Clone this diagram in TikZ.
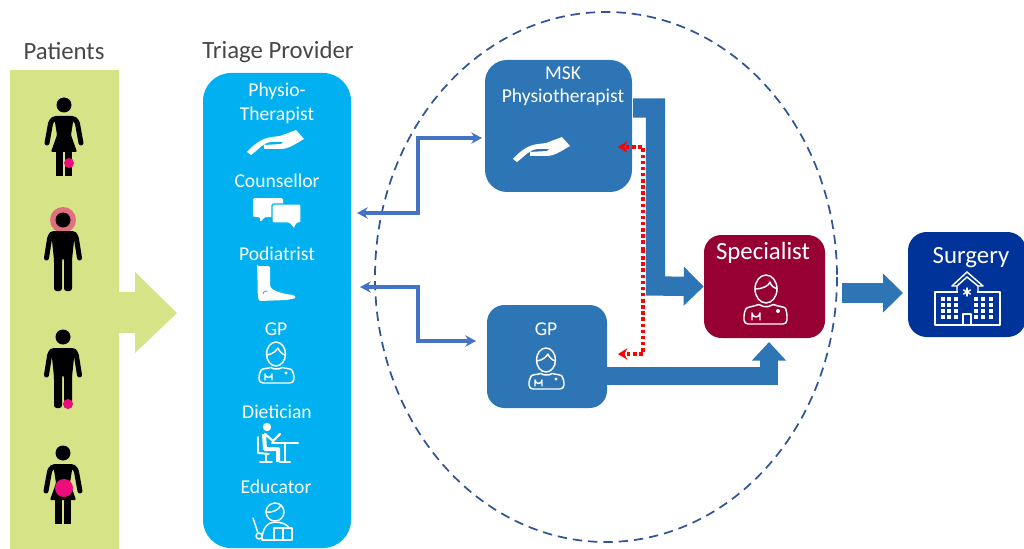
\documentclass[tikz,border=0pt]{standalone}
\usepackage{fontspec}
\setmainfont{Carlito}
\usetikzlibrary{arrows.meta}
\definecolor{patientgreen}{HTML}{D6E386}
\definecolor{triagecyan}{HTML}{00B0F0}
\definecolor{mskblue}{HTML}{2E75B6}
\definecolor{specred}{HTML}{970033}
\definecolor{surgblue}{HTML}{003399}
\definecolor{loopblue}{HTML}{2F5597}
\definecolor{linkblue}{HTML}{4472C4}
\definecolor{painpink}{HTML}{EC0C7C}
\definecolor{halored}{HTML}{E0707F}
\tikzset{
	boxnode/.style={rounded corners=16.5pt,inner sep=0pt},
	headtext/.style={text=black!72,font=\fontsize{18.6}{20}\selectfont},
	boxtext/.style={text=white,font=\fontsize{14.7}{16}\selectfont},
	bigtext/.style={text=white,font=\fontsize{18.6}{20}\selectfont},
	flowarrow/.style={draw=mskblue,line width=14.5pt,-{Triangle[length=15pt,width=28.5pt]}},
	linkarrow/.style={draw=linkblue,line width=2.6pt,{Stealth[length=8pt,width=8.5pt]}-{Stealth[length=8pt,width=8.5pt]}},
	backarrow/.style={draw=red,line width=2.6pt,dotted,-{Stealth[length=7pt,width=8.5pt]}},
	iconline/.style={draw=white,line width=1.1pt,line cap=round,line join=round},
	manfig/.pic={
		\fill (0,0)circle(7.5);
		\fill[rounded corners=2pt] (-12,11)--(12,11)--(9,40)--(9,71)--(1,71)--(1,38)--(-1,38)--(-1,71)--(-9,71)--(-9,40)--cycle;
		\foreach \s in {-1,1}
			\draw[line width=3.75pt,line cap=round,rounded corners=2pt] (\s*11,14)--(\s*13,16)--(\s*16.5,38);
	},
	womanfig/.pic={
		\fill (0,0)circle(7.5);
		\fill[rounded corners=.8pt] (-10,11)--(10,11)--(7,30)--(13,47)--(-13,47)--(-7,30)--cycle;
		\fill (-8,45) rectangle (-1,71);
		\fill (1,45) rectangle (8,71);
		\foreach \s in {-1,1}
			\draw[line width=3.75pt,line cap=round,rounded corners=2pt] (\s*10,14)--(\s*13,16)--(\s*17,38);
	},
	handicon/.pic={
		\fill[white] (-28,9) .. controls (-20,0) and (-12,-5) .. (-3,-6)--(5,-7)--(21,-13)--(29,-4) .. controls (20,1) and (14,6) .. (5,6)--(-11,6)--(-11,2)--(6,1)--(8,-1)--(-4,-1) .. controls (-12,0) and (-16,6) .. (-24,12)--cycle;
	},
	chaticon/.pic={
		\fill[white,rounded corners=1pt] (-24,-11)--(6,-11)--(6,8)--(-12,8)--(-17,13)--(-17,8)--(-24,8)--cycle;
		\filldraw[white,draw=triagecyan,line width=.8pt,rounded corners=1pt] (-5,-5)--(24,-5)--(24,14)--(20,14)--(17,20)--(12,14)--(-5,14)--cycle;
	},
	footicon/.pic={
		\fill[white,rounded corners=1pt] (-20,-19)--(-7,-19)--(-7,1) .. controls (-4,6) and (6,9) .. (17,10)--(19,13)--(10,15)--(-18,16) .. controls (-20,8) and (-19,0) .. cycle;
		\draw[triagecyan,line width=.6pt] (-14,9) arc[start angle=180,end angle=300,radius=3];
	},
	femdoc/.pic={
		\draw[iconline] (0,-8)ellipse[x radius=9.5,y radius=12];
		\draw[iconline] (-9,-7) .. controls (-3,-8) and (0,-11) .. (2,-14) .. controls (3,-11) and (6,-8) .. (9,-7);
		\draw[iconline,rounded corners=3pt] (-17,21)--(-17,11) .. controls (-14,7) and (-8,6) .. (-5,4) .. controls (-2,7) and (3,7) .. (6,4) .. controls (9,6) and (15,7) .. (18,11)--(18,21)--cycle;
		\draw[iconline] (-11,18)--(-11,12) arc[start angle=180,end angle=0,radius=3.5]--(-4,18);
		\fill[white] (10,11)circle(1.6);
	},
	maledoc/.pic={
		\draw[iconline] (1,-10)ellipse[x radius=11,y radius=14];
		\draw[iconline] (-10,-10) .. controls (-3,-10) and (4,-13) .. (5,-17) .. controls (6,-13) and (9,-11) .. (12,-10);
		\draw[iconline,rounded corners=3pt] (-21,25)--(-21,13) .. controls (-18,8) and (-10,7) .. (-6,4) .. controls (-2,8) and (4,8) .. (8,4) .. controls (12,7) and (20,8) .. (22,13)--(22,25)--cycle;
		\draw[iconline] (-13,21)--(-13,14) arc[start angle=180,end angle=0,radius=4]--(-5,21);
		\fill[white] (13,12)circle(2);
	},
	deskicon/.pic={
		\fill[white] (-10,-16)circle(4.2);
		\draw[white,line width=3pt,line join=round] (-13,-9)--(-12,6)--(1,6)--(1,19);
		\draw[white,line width=1.6pt,line join=round,line cap=round] (-12,-9)--(-4,-2)--(3,-9);
		\draw[iconline,line width=1.4pt] (-19,-6)--(-19,10)--(-8,11);
		\draw[iconline,line width=1.4pt] (-11,11)--(-11,19) (-17,19)--(-5,19);
		\draw[iconline,line width=1.6pt] (-5,0)--(21,0) (8,0)--(8,19) (3,19)--(13,19);
	},
	teachicon/.pic={
		\draw[iconline] (-1,-13)circle(9);
		\draw[iconline] (-10,-13) .. controls (-4,-12) and (3,-15) .. (5,-20);
		\draw[iconline] (-14,15) .. controls (-14,3) and (-8,-3) .. (-1,-3) .. controls (6,-3) and (12,0) .. (13,3);
		\draw[iconline] (-14,15)--(-2,15);
		\draw[iconline,fill=triagecyan] (-2,3) rectangle (16,15);
		\draw[iconline] (7,3)--(7,15);
		\draw[iconline] (-23,-7)--(-18,8);
		\draw[iconline] (-17,11)circle(3);
	},
	hospicon/.pic={
		\draw[iconline] (-33,-8) rectangle (32,25);
		\fill[surgblue] (-10,-9) rectangle (9,-7);
		\draw[iconline] (-11,-8)--(-11,-14)--(-16,-14)--(-1,-28)--(15,-14)--(10,-14)--(10,-8);
		\draw[iconline] (-11,-14)--(-1,-23)--(10,-14);
		\draw[iconline] (-5,25)--(-5,14)--(3,14)--(3,25);
		\foreach \a in {0,60,120}
			\draw[iconline,rotate around={\a:(-1,-8)}] (-1,-12)--(-1,-4);
		\foreach \wx in {-25,-19,-12,8,15,23}
			\foreach \wy in {-1,5,11,17}
				\fill[white] (\wx-1.7,\wy-1.7) rectangle (\wx+1.7,\wy+1.7);
	},
}
\begin{document}
\begin{tikzpicture}[x=.75pt,y=-.75pt]
	\useasboundingbox (0,0) rectangle (1024,549);
	% patients
	\node[headtext] (patientshead) at (64,51) {Patients};
	\fill[patientgreen] (10,70) rectangle (119,549);
	\fill[patientgreen] (119,292)--(135,292)--(135,272)--(177,313)--(135,353)--(135,333)--(119,333)--cycle;
	\pic at (64,105) {womanfig};
	\fill[painpink] (69,163)circle(5);
	\fill[halored] (63,220)circle(13);
	\pic at (63,220) {manfig};
	\pic at (63,337) {manfig};
	\fill[painpink] (68,404)circle(5);
	\pic at (63,453) {womanfig};
	\fill[painpink] (64,488)circle(9);
	% triage column
	\node[headtext] (triagehead) at (278,52) {Triage Provider};
	\node[boxnode,fill=triagecyan,rounded corners=21pt,minimum width=111pt,minimum height=356.25pt] (triage) at (277,310.5) {};
	\node[boxtext] (physioA) at (277,91) {Physio-};
	\node[boxtext] (physioB) at (277,115) {Therapist};
	\pic at (275,143) {handicon};
	\node[boxtext] (couns) at (277,181) {Counsellor};
	\pic at (277,209) {chaticon};
	\node[boxtext] (podia) at (277,254) {Podiatrist};
	\pic at (277,285) {footicon};
	\node[boxtext] (gpA) at (276,329) {GP};
	\pic at (276,362) {femdoc};
	\node[boxtext] (diet) at (277,412) {Dietician};
	\pic at (277,443) {deskicon};
	\node[boxtext] (educ) at (276,487) {Educator};
	\pic at (276,525) {teachicon};
	% care loop
	\draw[loopblue,line width=1.3pt,dash pattern=on 7pt off 4.5pt] (606,277)ellipse[x radius=231,y radius=265];
	\node[boxnode,fill=mskblue,minimum width=110.25pt,minimum height=99pt] (msk) at (558.5,126) {};
	\node[boxtext] (mskA) at (563,73) {MSK};
	\node[boxtext] (mskB) at (563,97) {Physiotherapist};
	\pic at (541,150) {handicon};
	\node[boxnode,fill=mskblue,rounded corners=13pt,minimum width=90pt,minimum height=77.25pt] (gp) at (547,356.5) {};
	\node[boxtext] (gpB) at (546,329) {GP};
	\pic at (546,368) {femdoc};
	\node[boxnode,fill=specred,rounded corners=13pt,minimum width=90.75pt,minimum height=77.25pt] (spec) at (764.5,286.5) {};
	\node[bigtext] (specB) at (763,253) {Specialist};
	\pic at (765,299) {maledoc};
	\node[boxnode,fill=surgblue,rounded corners=14pt,minimum width=88.5pt,minimum height=78.75pt] (surg) at (967,284.5) {};
	\node[bigtext] (surgB) at (971,258) {Surgery};
	\pic at (968,300) {hospicon};
	% links
	\coordinate (T1) at (357,213);
	\coordinate (T2) at (360,287);
	\coordinate (M1) at (482,138);
	\coordinate (G1) at (476,341);
	\draw[linkarrow] (T1)-|(418,175)|-(M1);
	\draw[linkarrow] (T2)-|(418,314)|-(G1);
	\coordinate (M2) at (633,108);
	\draw[flowarrow] (M2)-|(655.5,286)--(spec.west);
	\coordinate (G2) at (607,376);
	\coordinate (S2) at (769,342);
	\draw[flowarrow,line width=13.5pt,-{Triangle[length=14pt,width=25pt]}] (G2)-|(S2);
	\coordinate (S3) at (842,293);
	\coordinate (U3) at (903,293);
	\draw[flowarrow] (S3)--(U3);
	\coordinate (R0) at (643,250);
	\coordinate (R1) at (618,147);
	\coordinate (R2) at (618,354);
	\draw[backarrow] (R0)|-(R1);
	\draw[backarrow] (R0)|-(R2);
\end{tikzpicture}
\end{document}
